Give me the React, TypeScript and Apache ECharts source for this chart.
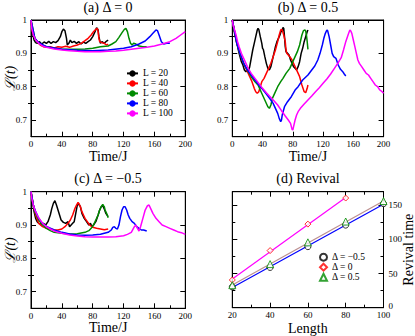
import React, { useEffect, useRef } from 'react';
import * as echarts from 'echarts';

const SERIF = "'Liberation Serif', 'DejaVu Serif', serif";

const lineNames = ['L = 20', 'L = 40', 'L = 60', 'L = 80', 'L = 100'];
const lineColors = ['#000000', '#ff0000', '#008b00', '#0000ff', '#ff00ff'];

const echoMajor = [0.7, 0.8, 0.9, 1];
const echoMinor = [0.75, 0.85, 0.95];
const revivalMajor = [0, 50, 100, 150];
const revivalMinor = [25, 75, 125];

// Panel (a) Δ = 0
const a20 = [[0,1],[2,0.96],[4,0.94],[6,0.932],[8,0.93],[11,0.935],[14,0.928],[17,0.934],[20,0.93],[23,0.936],[26,0.93],[29,0.935],[32,0.932],[35,0.938],[38,0.95],[40,0.965],[42,0.973],[44,0.968],[46,0.945],[47,0.925],[49,0.93],[51,0.94],[53,0.932],[56,0.936],[59,0.93],[62,0.935],[65,0.928],[68,0.934],[71,0.93],[74,0.935],[77,0.94],[80,0.95],[83,0.965],[85,0.977],[87,0.97],[88,0.95],[90,0.93],[92,0.935],[95,0.93],[98,0.937],[100,0.94]];
const a40 = [[0,1],[2,0.965],[5,0.945],[8,0.935],[12,0.925],[16,0.92],[20,0.918],[25,0.92],[30,0.916],[35,0.92],[40,0.918],[45,0.921],[50,0.918],[55,0.922],[60,0.925],[65,0.93],[70,0.938],[74,0.945],[78,0.955],[81,0.965],[84,0.972],[86,0.975],[87,0.965],[88,0.945],[89,0.935],[92,0.932],[95,0.93],[98,0.925],[100,0.928]];
const a60 = [[0,1],[5,0.945],[10,0.93],[20,0.92],[30,0.915],[40,0.912],[50,0.912],[60,0.912],[70,0.913],[80,0.915],[90,0.92],[100,0.922],[105,0.928],[110,0.935],[114,0.948],[118,0.962],[121,0.972],[123,0.975],[125,0.965],[127,0.945],[129,0.93],[131,0.925],[133,0.93],[136,0.928],[140,0.922],[145,0.92],[150,0.92]];
const a80 = [[0,1],[5,0.945],[10,0.932],[20,0.92],[40,0.912],[60,0.909],[80,0.908],[100,0.91],[120,0.915],[130,0.92],[140,0.928],[148,0.937],[154,0.95],[158,0.96],[162,0.97],[164,0.968],[166,0.955],[169,0.935],[172,0.928],[176,0.93],[180,0.93]];
const a100 = [[0,1],[1,0.975],[3,0.955],[6,0.94],[10,0.93],[15,0.922],[20,0.918],[30,0.913],[40,0.91],[50,0.908],[60,0.906],[70,0.905],[80,0.905],[90,0.905],[100,0.906],[110,0.907],[120,0.909],[130,0.912],[140,0.915],[150,0.918],[160,0.922],[170,0.928],[180,0.935],[188,0.945],[194,0.955],[200,0.965]];

// Panel (b) Δ = 0.5
const b20 = [[0,1],[3,0.96],[6,0.93],[9,0.9],[12,0.875],[14,0.865],[16,0.85],[18,0.845],[20,0.85],[21,0.845],[23,0.86],[25,0.885],[27,0.91],[29,0.93],[31,0.95],[33,0.97],[34,0.975],[35,0.972],[37,0.95],[39,0.93],[40,0.915],[41,0.912],[43,0.89],[45,0.87],[47,0.855],[49,0.85],[51,0.86],[53,0.88],[55,0.9],[57,0.92],[59,0.935],[61,0.945],[63,0.955],[65,0.97],[66,0.965],[67,0.978],[68,0.975],[69,0.95],[70,0.92],[71,0.905],[73,0.9],[75,0.895],[77,0.88],[79,0.87],[81,0.86],[83,0.855],[85,0.85],[87,0.86],[89,0.875],[91,0.9],[93,0.915],[95,0.935],[97,0.95],[99,0.965],[100,0.97]];
const b40 = [[0,1],[3,0.965],[6,0.93],[10,0.9],[14,0.875],[17,0.86],[20,0.845],[23,0.83],[26,0.815],[29,0.795],[31,0.785],[33,0.78],[35,0.785],[37,0.8],[39,0.815],[42,0.825],[45,0.84],[48,0.855],[51,0.87],[54,0.89],[57,0.91],[60,0.935],[62,0.955],[64,0.97],[65,0.972],[66,0.97],[68,0.955],[70,0.935],[71,0.91],[72,0.9],[74,0.895],[76,0.89],[79,0.88],[82,0.865],[86,0.845],[89,0.83],[92,0.805],[95,0.785],[97,0.782],[99,0.795],[100,0.805]];
const b60 = [[0,1],[3,0.965],[6,0.93],[10,0.9],[15,0.87],[20,0.85],[25,0.83],[30,0.815],[34,0.805],[38,0.785],[41,0.77],[44,0.755],[47,0.74],[49,0.735],[51,0.745],[53,0.765],[56,0.78],[60,0.8],[64,0.815],[67,0.825],[71,0.84],[76,0.855],[80,0.875],[83,0.89],[86,0.905],[89,0.925],[92,0.955],[94,0.968],[96,0.97],[97,0.967],[98,0.955],[99,0.935],[100,0.912]];
const b80 = [[0,1],[3,0.965],[6,0.93],[10,0.9],[15,0.87],[20,0.85],[25,0.835],[30,0.82],[35,0.805],[40,0.792],[45,0.778],[50,0.763],[54,0.75],[57,0.735],[60,0.72],[62,0.705],[64,0.695],[65,0.7],[66,0.715],[69,0.74],[73,0.755],[78,0.77],[83,0.79],[87,0.8],[93,0.82],[100,0.835],[105,0.85],[109,0.862],[113,0.88],[116,0.9],[119,0.925],[121,0.945],[123,0.96],[125,0.97],[126,0.968],[128,0.95],[130,0.925],[132,0.9],[134,0.89],[137,0.885],[140,0.865],[143,0.852],[146,0.845],[148,0.838],[150,0.832]];
const b100 = [[0,1],[1,0.985],[3,0.97],[5,0.955],[7,0.935],[9,0.92],[12,0.9],[15,0.885],[18,0.87],[21,0.855],[25,0.84],[30,0.825],[35,0.81],[40,0.795],[45,0.782],[50,0.77],[55,0.758],[60,0.745],[65,0.728],[70,0.712],[74,0.7],[77,0.69],[79,0.672],[80,0.67],[81,0.68],[83,0.7],[85,0.715],[87,0.725],[90,0.735],[95,0.748],[100,0.76],[105,0.772],[110,0.785],[115,0.797],[120,0.81],[125,0.823],[130,0.838],[135,0.855],[140,0.872],[144,0.887],[147,0.91],[150,0.935],[153,0.955],[155,0.968],[156,0.97],[158,0.96],[160,0.94],[162,0.92],[164,0.9],[166,0.88],[168,0.87],[171,0.86],[174,0.85],[177,0.84],[180,0.835],[183,0.825],[186,0.815],[189,0.805],[192,0.8],[195,0.79],[198,0.785],[200,0.78]];

// Panel (c) Δ = −0.5
const c20 = [[0,1],[2,0.97],[4,0.94],[6,0.92],[8,0.91],[10,0.905],[13,0.903],[16,0.905],[19,0.9],[22,0.91],[25,0.93],[27,0.95],[29,0.965],[31,0.973],[33,0.96],[35,0.945],[37,0.93],[39,0.915],[42,0.908],[45,0.905],[48,0.91],[50,0.895],[52,0.9],[54,0.905],[56,0.91],[58,0.935],[60,0.96],[62,0.963],[64,0.955],[66,0.935],[69,0.92],[72,0.91],[75,0.9],[77,0.905],[79,0.895],[81,0.9],[84,0.91],[87,0.93],[89,0.945],[91,0.955],[93,0.958],[95,0.948],[97,0.935],[100,0.925]];
const c40 = [[0,1],[3,0.96],[6,0.93],[10,0.905],[15,0.895],[20,0.89],[25,0.888],[30,0.886],[35,0.885],[40,0.888],[44,0.895],[48,0.905],[51,0.915],[54,0.93],[57,0.95],[59,0.96],[61,0.968],[62,0.965],[64,0.955],[66,0.94],[68,0.93],[70,0.92],[73,0.91],[76,0.9],[80,0.893],[85,0.89],[90,0.888],[95,0.886],[100,0.888]];
const c60 = [[0,1],[3,0.96],[6,0.935],[10,0.915],[15,0.9],[20,0.89],[25,0.883],[30,0.878],[40,0.875],[50,0.873],[60,0.874],[70,0.878],[75,0.883],[78,0.89],[81,0.9],[84,0.915],[87,0.93],[89,0.945],[91,0.955],[93,0.962],[94,0.958],[95,0.955],[96,0.945],[98,0.935],[100,0.922]];
const c80 = [[0,1],[3,0.96],[6,0.94],[10,0.92],[15,0.905],[20,0.896],[30,0.885],[40,0.878],[50,0.873],[60,0.87],[70,0.869],[80,0.87],[90,0.872],[95,0.875],[100,0.878],[104,0.885],[106,0.893],[108,0.895],[110,0.89],[112,0.888],[114,0.9],[116,0.925],[118,0.945],[120,0.955],[122,0.955],[124,0.945],[126,0.93],[128,0.92],[131,0.91],[134,0.905],[137,0.895],[140,0.89],[143,0.885],[146,0.885],[150,0.882]];
const c100 = [[0,1],[1,0.98],[3,0.96],[5,0.945],[8,0.93],[11,0.918],[15,0.905],[20,0.895],[25,0.888],[30,0.882],[35,0.878],[40,0.875],[50,0.87],[60,0.867],[70,0.865],[80,0.864],[90,0.864],[100,0.864],[110,0.865],[120,0.868],[125,0.872],[130,0.878],[134,0.895],[136,0.9],[138,0.89],[140,0.882],[142,0.895],[145,0.92],[148,0.945],[151,0.958],[153,0.96],[155,0.95],[158,0.935],[162,0.92],[166,0.91],[170,0.9],[175,0.895],[180,0.89],[185,0.885],[190,0.88],[195,0.877],[200,0.872]];

// Panel (d) revival times
const chainLengths = [20, 40, 60, 80, 100];
const revivalNeg = [30.5, 59, 89.5, 121, 152.4];
const revivalZero = [40.6, 83.7, 122.5, 160.7];
const revivalPos = [33, 63.9, 95.8, 126.3, 156.3];
const fitNeg = [[20, 29.5], [100, 151.5]];
const fitZero = [[20, 42], [80, 161.5]];
const fitPos = [[20, 33.3], [100, 156.5]];
const revivalNames = ['Δ = −0.5', 'Δ = 0', 'Δ = 0.5'];

const panels = [
  [a20, a40, a60, a80, a100],
  [b20, b40, b60, b80, b100],
  [c20, c40, c60, c80, c100],
];

const grids = [
  { left: 31, top: 20, width: 154.3, height: 116.7 },
  { left: 232.3, top: 20, width: 151.3, height: 116.7 },
  { left: 31, top: 191.7, width: 154.3, height: 116.6 },
  { left: 232.3, top: 191.7, width: 151.2, height: 116 },
];

const black = '#000';
const lineSt = { color: black, width: 1 };

function xPair(g: number, min: number, max: number, interval: number, name: string, nameGap: number) {
  const base = {
    type: 'value', gridIndex: g, min, max, interval,
    axisLine: { show: true, onZero: false, lineStyle: lineSt },
    axisTick: { show: true, inside: true, length: 5, lineStyle: lineSt },
    minorTick: { show: true, splitNumber: 2, length: 3, lineStyle: lineSt },
    splitLine: { show: false }, minorSplitLine: { show: false },
  };
  return [
    {
      ...base, position: 'bottom',
      axisLabel: { show: true, margin: 3, fontSize: 9, fontFamily: SERIF, color: black },
      name, nameLocation: 'middle', nameGap, nameMoveOverlap: false,
      nameTextStyle: { fontSize: 14, fontFamily: SERIF, color: black },
    },
    { ...base, position: 'top', axisLabel: { show: false } },
  ];
}

function yQuad(g: number, min: number, max: number, major: number[], minor: number[], labelSide: string,
  fmt: (v: number) => string, name: string | null, nameGap: number, nameStyle: any, labelMargin: number, rich?: any) {
  const mk = (pos: string, vals: number[], len: number, withLabel: boolean, withLine: boolean) => {
    const ax: any = {
      type: 'value', gridIndex: g, min, max, position: pos,
      axisLine: withLine ? { show: true, onZero: false, lineStyle: lineSt } : { show: false },
      axisTick: { show: true, inside: true, length: len, customValues: vals, lineStyle: lineSt },
      axisLabel: withLabel
        ? { show: true, customValues: vals, margin: labelMargin, fontSize: 9, fontFamily: SERIF, color: black, formatter: fmt, ...(rich ? { rich } : {}) }
        : { show: false },
      splitLine: { show: false },
    };
    if (withLabel && name) {
      ax.name = name;
      ax.nameLocation = 'middle';
      ax.nameGap = nameGap;
      ax.nameRotate = 90;
      ax.nameMoveOverlap = false;
      ax.nameTextStyle = nameStyle;
    }
    return ax;
  };
  return [
    mk('left', major, 5, labelSide === 'left', true),
    mk('left', minor, 3, false, false),
    mk('right', major, 5, labelSide === 'right', true),
    mk('right', minor, 3, false, false),
  ];
}

const echoFmt = (v: number) => (v === 1 ? '1' : v.toFixed(1));
const revFmt = (v: number) => (v === 0 ? '{z|0}' : String(v));
const lStyle = { fontSize: 14, fontFamily: SERIF, fontStyle: 'italic', color: black };

function buildOption() {
  const xAxis = [
    ...xPair(0, 0, 200, 40, 'Time/J', 12.5),
    ...xPair(1, 0, 200, 40, 'Time/J', 12.5),
    ...xPair(2, 0, 200, 40, 'Time/J', 12.5),
    ...xPair(3, 20, 100, 20, 'Length', 14),
  ];
  const yAxis = [
    ...yQuad(0, 0.65, 1, echoMajor, echoMinor, 'left', echoFmt, 'ℒ(t)', 14, lStyle, 4),
    ...yQuad(1, 0.65, 1, echoMajor, echoMinor, 'left', echoFmt, null, 0, null, 4),
    ...yQuad(2, 0.65, 1, echoMajor, echoMinor, 'left', echoFmt, 'ℒ(t)', 14, lStyle, 4),
    ...yQuad(3, 0, 170, revivalMajor, revivalMinor, 'right', revFmt, 'Revival time', 18,
      { fontSize: 14, fontFamily: SERIF, color: black }, 5,
      { z: { fontSize: 9, fontFamily: SERIF, color: black, padding: [0, 0, 4, 0] } }),
  ];
  const series: any[] = [];
  panels.forEach((curves, g) => {
    curves.forEach((d, i) => {
      series.push({
        type: 'line', name: lineNames[i], xAxisIndex: 2 * g, yAxisIndex: 4 * g,
        data: d, symbol: 'none', showSymbol: false,
        lineStyle: { color: lineColors[i], width: 1.5 }, itemStyle: { color: lineColors[i] }, z: 2 + i,
      });
    });
  });
  const fits = [
    { d: fitNeg, c: '#0000ff' },
    { d: fitPos, c: '#bc8f8f' },
    { d: fitZero, c: '#ff00ff' },
  ];
  fits.forEach((f, i) => series.push({
    type: 'line', name: 'fit' + i, xAxisIndex: 6, yAxisIndex: 12, data: f.d, symbol: 'none',
    lineStyle: { color: f.c, width: 1.2 }, itemStyle: { color: f.c }, z: 2,
  }));
  const pts = [
    { vals: revivalNeg, sym: 'circle', c: '#000000', size: 6 },
    { vals: revivalZero, sym: 'diamond', c: '#ff0000', size: 6 },
    { vals: revivalPos, sym: 'triangle', c: '#008b00', size: 7 },
  ];
  pts.forEach((p, i) => series.push({
    type: 'scatter', name: revivalNames[i], xAxisIndex: 6, yAxisIndex: 12,
    data: p.vals.map((v, k) => [chainLengths[k], v]),
    symbol: p.sym, symbolSize: p.size,
    itemStyle: { color: '#ffffff', borderColor: p.c, borderWidth: 1 }, z: 5,
  }));

  const titles = [
    { x: 108, y: 7.7, t: '(a) Δ = 0' },
    { x: 308, y: 7.7, t: '(b) Δ = 0.5' },
    { x: 108, y: 178.3, t: '(c) Δ = −0.5' },
    { x: 308, y: 178.3, t: '(d) Revival' },
  ];

  return {
    animation: false,
    backgroundColor: '#fff',
    grid: grids.map((g) => ({ ...g, show: true, borderColor: black, borderWidth: 1, backgroundColor: 'transparent', containLabel: false, outerBoundsMode: 'none' })),
    xAxis,
    yAxis,
    legend: [
      {
        data: lineNames, orient: 'vertical', left: 126, top: 68.4, itemWidth: 11, itemHeight: 8, itemGap: 0,
        selectedMode: false, padding: 0,
        textStyle: { fontSize: 9.5, lineHeight: 9.75, fontFamily: SERIF, color: black },
      },
      {
        data: revivalNames, orient: 'vertical', left: 319, top: 252.2, itemWidth: 7, itemHeight: 7, itemGap: 0,
        selectedMode: false, padding: 0,
        textStyle: { fontSize: 9.5, lineHeight: 9.5, fontFamily: SERIF, color: black },
      },
    ],
    graphic: titles.map((t) => ({
      type: 'text', x: t.x, y: t.y, silent: true,
      style: { text: t.t, font: `14px ${SERIF}`, fill: black, align: 'center', verticalAlign: 'middle', textAlign: 'center', textVerticalAlign: 'middle' },
    })),
    series,
  };
}

export default function App() {
  const ref = useRef<HTMLDivElement>(null);
  useEffect(() => {
    if (!ref.current) return;
    const chart = echarts.init(ref.current, undefined, { renderer: 'svg' });
    chart.setOption(buildOption() as any);
    return () => chart.dispose();
  }, []);
  return <div ref={ref} style={{ position: 'absolute', left: 0, top: 0, width: 415, height: 336 }} />;
}
